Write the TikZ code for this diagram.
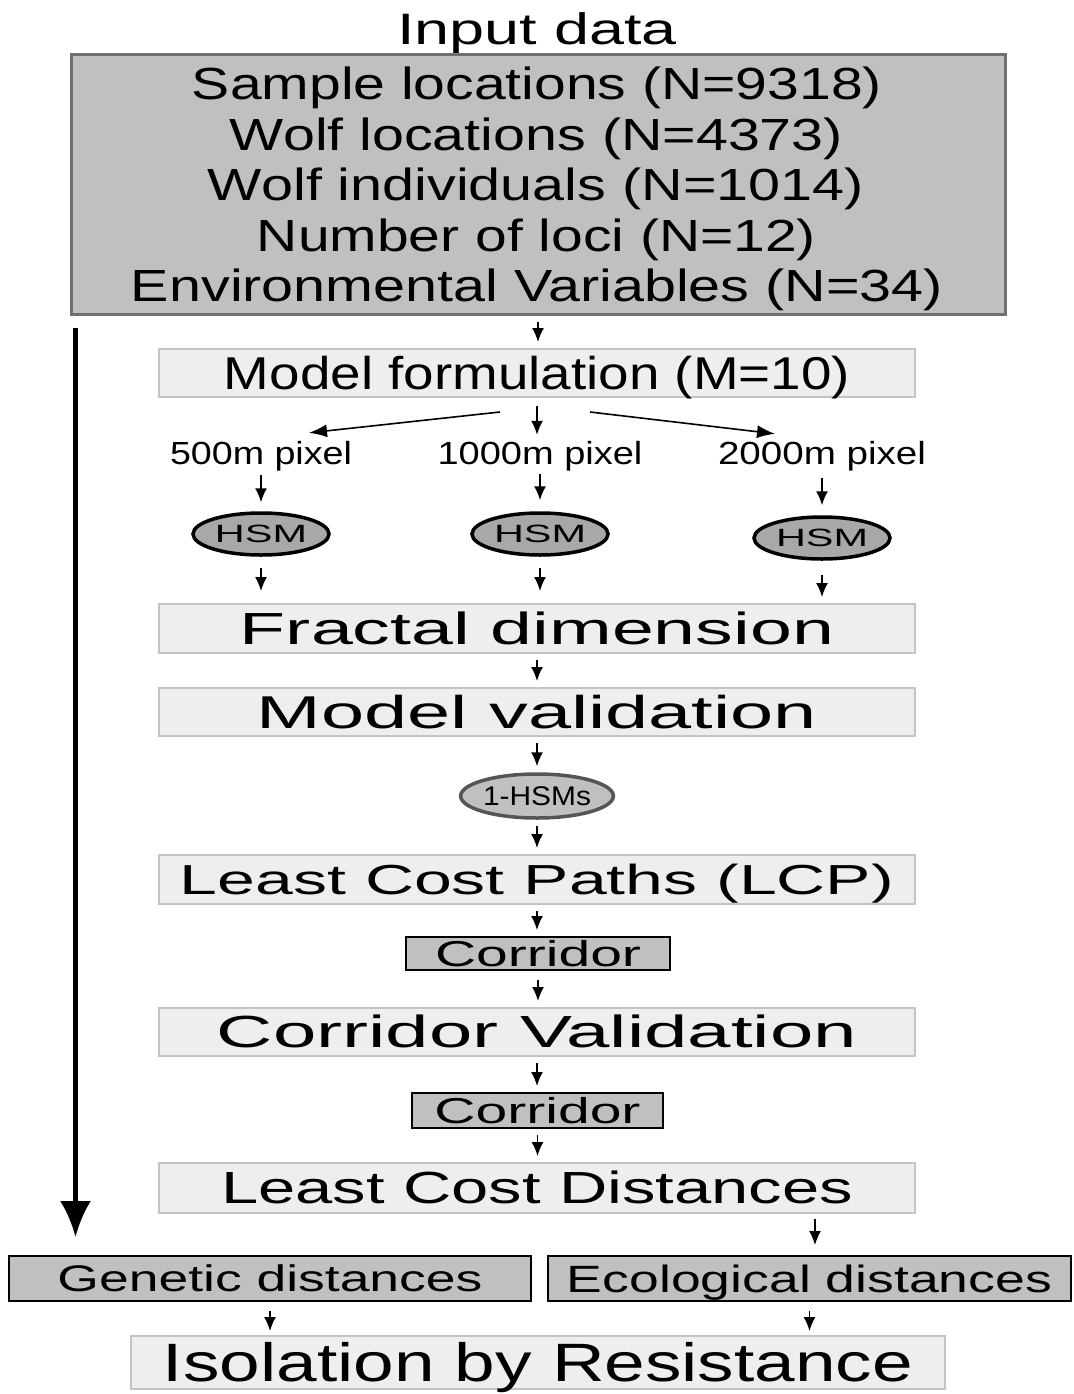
\documentclass[tikz,border=0pt]{standalone}
\usepackage{fontspec}
\setmainfont{Liberation Sans}
\usetikzlibrary{arrows.meta,shapes.geometric,calc}
\definecolor{lightfill}{HTML}{EEEEEE}
\definecolor{boxedge}{HTML}{C4C4C4}
\definecolor{darkfill}{HTML}{C0C0C0}
\definecolor{inputedge}{HTML}{707070}
\definecolor{hsmfill}{HTML}{A8A8A8}
\definecolor{oneedge}{HTML}{555555}
\newcommand\stx[3]{\resizebox{#1pt}{\height}{\fontsize{#2pt}{#2pt}\selectfont #3}}
\begin{document}
\begin{tikzpicture}[x=1pt,y=-1pt,
  lbox/.style={draw=boxedge, fill=lightfill, line width=2pt, minimum width=756pt, inner sep=0pt, text depth=0pt},
  dbox/.style={draw=black, fill=darkfill, line width=2pt, inner sep=0pt, text depth=0pt},
  hsm/.style={ellipse, draw=black, fill=hsmfill, line width=3.5pt, inner sep=0pt, minimum width=136pt, minimum height=42pt, text height=17pt, text depth=0pt},
  lbl/.style={inner sep=0pt, text depth=0pt, anchor=base},
  arr/.style={-{Latex[length=14pt,width=12pt]}, line width=1.6pt, shorten <=6pt, shorten >=6pt},
  arrd/.style={-{Latex[length=18pt,width=13pt]}, line width=1.6pt},
  bigarr/.style={-{Latex[length=36pt,width=31pt]}, line width=4.5pt}
]
\useasboundingbox (0,0) rectangle (1073,1394);

% Input data
\node[lbl] (title) at (537,45) {\stx{280}{44}{Input data}};
\node[draw=inputedge, fill=darkfill, line width=3pt, minimum width=934pt, minimum height=259pt, inner sep=0pt] (input) at (538,184.5) {};
\node[lbl] (l1) at (537,99.5)  {\stx{690}{45}{Sample locations (N=9318)}};
\node[lbl] (l2) at (536.5,150) {\stx{613}{45}{Wolf locations (N=4373)}};
\node[lbl] (l3) at (536,200.5) {\stx{656}{45}{Wolf individuals (N=1014)}};
\node[lbl] (l4) at (536.5,251) {\stx{559}{45}{Number of loci (N=12)}};
\node[lbl] (l5) at (537,301.5) {\stx{812}{45}{Environmental Variables (N=34)}};

% Model formulation
\node[lbox, minimum height=48pt, text height=32pt] (mf) at (537,373) {\stx{626}{46}{Model formulation (M=10)}};

% pixel labels
\node[lbl, text height=23pt] (p500) at (261,464) {\stx{182}{32}{500m pixel}};
\node[lbl, text height=23pt] (p1000) at (540,464) {\stx{205}{32}{1000m pixel}};
\node[lbl, text height=23pt] (p2000) at (822,464) {\stx{208}{32}{2000m pixel}};

% HSM ellipses
\node[hsm] (h1) at (261,534) {\stx{92}{25}{HSM}};
\node[hsm] (h2) at (540,534) {\stx{92}{25}{HSM}};
\node[hsm] (h3) at (822,538) {\stx{92}{25}{HSM}};

% Main column
\node[lbox, minimum height=49pt, text height=31pt] (fd) at (537,628.5) {\stx{594}{45}{Fractal dimension}};
\node[lbox, minimum height=48pt, text height=32pt] (mv) at (537,712) {\stx{560}{46}{Model validation}};
\node[ellipse, draw=oneedge, fill=darkfill, line width=3.5pt, inner sep=0pt, minimum width=144pt, minimum height=44pt, text height=19pt, text depth=0pt] (one) at (537,796) {\stx{108}{27}{1-HSMs}};
\node[lbox, minimum height=49pt, text height=29pt] (lcp) at (537,879.5) {\stx{714}{42}{Least Cost Paths (LCP)}};
\node[dbox, minimum width=264pt, minimum height=33pt, text height=25pt] (c1) at (538,953.5) {\stx{206}{36}{Corridor}};
\node[lbox, minimum height=48pt, text height=31pt] (cv) at (537,1032) {\stx{640}{45}{Corridor Validation}};
\node[dbox, minimum width=251pt, minimum height=35pt, text height=25pt] (c2) at (537.5,1110.5) {\stx{206}{36}{Corridor}};
\node[lbox, minimum height=50pt, text height=31pt] (lcd) at (537,1188) {\stx{632}{45}{Least Cost Distances}};

% Bottom boxes
\node[dbox, minimum width=522pt, minimum height=45pt, text height=26pt] (gen) at (270,1278.5) {\stx{425}{37}{Genetic distances}};
\node[dbox, minimum width=523pt, minimum height=45pt, text height=27pt] (eco) at (809.5,1278.5) {\stx{485}{38}{Ecological distances}};
\node[lbox, minimum width=814pt, minimum height=53pt, text height=37pt] (ibr) at (538,1362.5) {\stx{750}{54}{Isolation by Resistance}};

% Connectors
\draw[arr] (input.south) -- (input.south |- mf.north);
\draw[arr, shorten <=8pt] (mf.south) -- (mf.south |- p1000.north);
\coordinate (dls) at ($(mf.south)+(-37,14)$);
\coordinate (dlt) at ($(p500.north)+(48,-8)$);
\coordinate (drs) at ($(mf.south)+(53,14)$);
\coordinate (drt) at ($(p2000.north)+(-47,-7)$);
\draw[arrd] (dls) -- (dlt);
\draw[arrd] (drs) -- (drt);

\draw[arr, shorten <=11pt, shorten >=9pt] (p500.south -| h1) -- (h1.north);
\draw[arr, shorten <=10pt, shorten >=11pt] (p1000.south -| h2) -- (h2.north);
\draw[arr, shorten <=14pt, shorten >=10pt] (p2000.south -| h3) -- (h3.north);

\draw[arr, shorten <=11pt, shorten >=12pt] (h1.south) -- (h1.south |- fd.north);
\draw[arr, shorten <=11pt, shorten >=12pt] (h2.south) -- (h2.south |- fd.north);
\draw[arr, shorten <=14pt, shorten >=6pt] (h3.south) -- (h3.south |- fd.north);

\draw[arr] (fd.south) -- (mv.north);
\draw[arr] (mv.south) -- (one.north);
\draw[arr] (one.south) -- (lcp.north);
\draw[arr] (lcp.south) -- (lcp.south |- c1.north);
\draw[arr, shorten <=9pt] (c1.south) -- (c1.south |- cv.north);
\draw[arr] (cv.south) -- (cv.south |- c2.north);
\draw[arr] (c2.south) -- (c2.south |- lcd.north);

\coordinate (lcdE) at ($(lcd.south)+(278,0)$);
\draw[arr, shorten <=5pt, shorten >=10pt] (lcdE) -- (lcdE |- eco.north);
\draw[arr, shorten <=9pt, shorten >=4pt] (gen.south) -- (gen.south |- ibr.north);
\draw[arr, shorten <=9pt, shorten >=4pt] (eco.south) -- (eco.south |- ibr.north);

\coordinate (bigS) at ($(input.south west)+(6,12)$);
\draw[bigarr, shorten >=18pt] (bigS) -- (bigS |- gen.north);
\end{tikzpicture}
\end{document}
